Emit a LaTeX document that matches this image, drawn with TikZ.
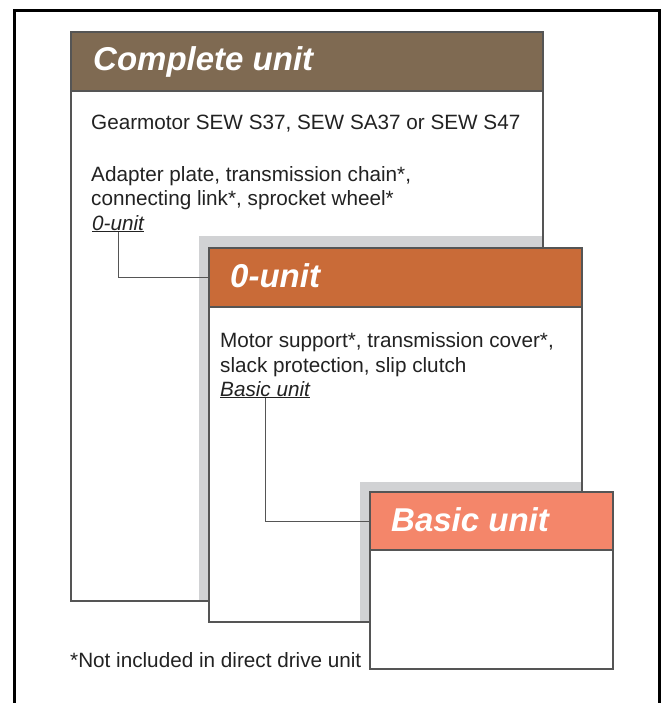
\documentclass[tikz,border=0pt]{standalone}
\usepackage{fontspec}
\setmainfont{Liberation Sans}
\definecolor{cubrown}{HTML}{7F6A52}
\definecolor{zuorange}{HTML}{C96B38}
\definecolor{busalmon}{HTML}{F4866A}
\definecolor{shadowgray}{HTML}{D1D2D4}
\definecolor{edgegray}{HTML}{555555}
\definecolor{inkgray}{HTML}{222222}
\begin{document}
\begin{tikzpicture}[x=1pt,y=-1pt,
  frameline/.style={line width=3pt,black},
  unitbox/.style={draw=edgegray,line width=1.1pt,fill=white,rectangle,anchor=north west,inner sep=0pt,outer sep=0pt},
  headbox/.style={draw=edgegray,line width=1.1pt,rectangle,anchor=north west,inner sep=0pt,outer sep=0pt},
  headtext/.style={anchor=base west,inner sep=0pt,text=white,font=\fontsize{33}{38}\selectfont\bfseries\itshape},
  bodytext/.style={anchor=base west,inner sep=0pt,text=inkgray,font=\fontsize{20.7}{24.5}\selectfont},
  linktext/.style={anchor=base west,inner sep=0pt,text=inkgray,font=\fontsize{20.7}{24.5}\selectfont\itshape},
  linkline/.style={draw=edgegray,line width=0.9pt}]
\useasboundingbox (0,0) rectangle (666,703);
% outer frame
\coordinate (fbl) at (14.5,703);
\coordinate (ftl) at (14.5,10.5);
\coordinate (ftr) at (659.5,10.5);
\coordinate (fbr) at (659.5,703);
\draw[frameline] (fbl) -- (ftl) -- (ftr) -- (fbr);
% complete unit
\node[unitbox,minimum width=472pt,minimum height=569pt] (cub) at (71,32) {};
\node[headbox,fill=cubrown,minimum width=472pt,minimum height=59pt] (cuh) at (71,32) {};
\node[headtext] (cut) at (93,71) {Complete unit};
\node[bodytext] (cu1) at (91,130) {Gearmotor SEW S37, SEW SA37 or SEW S47};
\node[bodytext] (cu2) at (91,182) {Adapter plate, transmission chain*,};
\node[bodytext] (cu3) at (91,206) {connecting link*, sprocket wheel*};
\node[linktext] (cul) at (92,230) {\underline{0-unit}};
% shadow of 0-unit
\fill[shadowgray] (199,236) rectangle (542.4,600.4);
% 0-unit
\node[unitbox,minimum width=373pt,minimum height=374pt] (zub) at (209,248) {};
\node[headbox,fill=zuorange,minimum width=373pt,minimum height=59pt] (zuh) at (209,248) {};
\node[headtext] (zut) at (230,287) {0-unit};
\node[bodytext] (zu1) at (220,347) {Motor support*, transmission cover*,};
\node[bodytext] (zu2) at (220,372) {slack protection, slip clutch};
\node[linktext] (zul) at (220,396) {\underline{Basic unit}};
% shadow of basic unit
\fill[shadowgray] (360,482) rectangle (581.4,621.4);
% basic unit
\node[unitbox,minimum width=243pt,minimum height=177pt] (bub) at (370,492) {};
\node[headbox,fill=busalmon,minimum width=243pt,minimum height=58pt] (buh) at (370,492) {};
\node[headtext] (but) at (391,531) {Basic unit};
% footnote
\node[bodytext] (fn) at (70,667) {*Not included in direct drive unit};
% connectors
\draw[linkline] (cul.south) |- (zuh.west);
\draw[linkline] (zul.south) |- (buh.west);
\end{tikzpicture}
\end{document}
